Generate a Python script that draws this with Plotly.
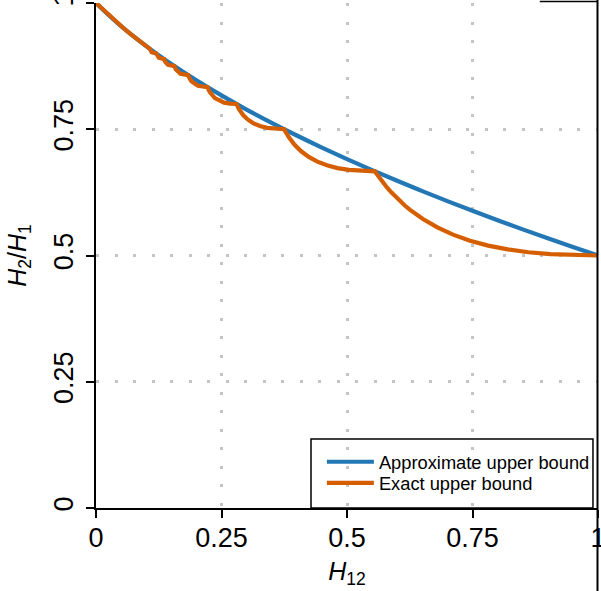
import plotly.graph_objects as go

# ---- data ----
approx_x = [0.0, 0.05, 0.1, 0.15, 0.2, 0.25, 0.3, 0.35, 0.4, 0.45, 0.5,
            0.55, 0.6, 0.65, 0.7, 0.75, 0.8, 0.85, 0.9, 0.95, 1.0]
approx_y = [1.0, 0.9542, 0.91459, 0.87919, 0.84689, 0.81699, 0.78902, 0.76266,
            0.73765, 0.71381, 0.69098, 0.66905, 0.64792, 0.62751, 0.60774,
            0.58856, 0.56993, 0.55179, 0.53411, 0.51686, 0.5]

exact_x = [0.0, 0.0208, 0.03556, 0.055, 0.07031, 0.08163, 0.09722, 0.107438,
           0.1108, 0.12, 0.125062, 0.135802, 0.137491, 0.143516, 0.15625,
           0.158776, 0.168265, 0.18367, 0.1851, 0.19, 0.203056, 0.22222,
           0.223952, 0.226688, 0.2368, 0.2552, 0.2668, 0.28, 0.282138, 0.28455,
           0.293438, 0.302734, 0.31375, 0.326484, 0.340938, 0.357109, 0.375,
           0.376705, 0.37849, 0.38431, 0.39556, 0.40875, 0.42389, 0.440972,
           0.46, 0.480972, 0.50389, 0.52875, 0.5556, 0.5578, 0.5648, 0.5722,
           0.58, 0.5882, 0.60125, 0.6152, 0.625, 0.65125, 0.68, 0.71125, 0.745,
           0.78125, 0.82, 0.86125, 0.905, 0.95125, 1.0]
exact_y = [1.0, 0.98, 0.96667, 0.95, 0.9375, 0.92857, 0.91667, 0.909091,
           0.9027, 0.9, 0.89159, 0.888889, 0.88406, 0.87771, 0.875,
           0.86851, 0.85986, 0.85714, 0.85302, 0.84483, 0.83606, 0.83333,
           0.8288, 0.8234, 0.81163, 0.80273, 0.80066, 0.8, 0.7951, 0.7904,
           0.77769, 0.76887, 0.76176, 0.75641, 0.75274, 0.75066, 0.75,
           0.74669, 0.74343, 0.73394, 0.7193, 0.70631, 0.69515, 0.6859,
           0.67857, 0.67311, 0.66942, 0.66732, 0.6667, 0.66334, 0.65348, 0.64379,
           0.63433, 0.62509, 0.61172, 0.599, 0.59091, 0.57213, 0.55556, 0.54128, 0.52932,
           0.51961, 0.51205, 0.50649, 0.50275, 0.50066, 0.5]

tick_vals = [0, 0.25, 0.5, 0.75, 1]
tick_text = ["0", "0.25", "0.5", "0.75", "1"]
grid_vals = [0.25, 0.5, 0.75]

series_names = ["Approximate upper bound", "Exact upper bound"]
BLUE = "#2277B4"
ORANGE = "#D55E00"
FONT = "Liberation Sans, Arial, Helvetica, sans-serif"

fig = go.Figure()
fig.add_trace(go.Scatter(x=approx_x, y=approx_y, mode="lines", name=series_names[0],
                         legend="legend",
                         line=dict(color=BLUE, width=4.2, shape="spline")))
fig.add_trace(go.Scatter(x=exact_x, y=exact_y, mode="lines", name=series_names[1],
                         legend="legend2",
                         line=dict(color=ORANGE, width=4.2)))

axis_common = dict(
    range=[0, 1], tickmode="array", tickvals=tick_vals, ticktext=tick_text,
    showline=True, linecolor="black", linewidth=1.5,
    ticks="outside", ticklen=8, tickwidth=1.5, tickcolor="black",
    showgrid=False, zeroline=False, ticklabeloverflow="allow",
    tickfont=dict(family=FONT, size=27, color="black"),
    minor=dict(tickmode="array", tickvals=grid_vals, ticks="", showgrid=True,
               gridcolor="#C4C4C4", gridwidth=3, griddash="3px,15.5px"),
)

legend_common = dict(xanchor="left", yanchor="top", bgcolor="rgba(0,0,0,0)",
                     borderwidth=0, font=dict(family=FONT, size=18.3, color="black"),
                     itemwidth=47, tracegroupgap=0)

fig.update_layout(
    width=601, height=591,
    margin=dict(l=96, r=3, t=3, b=83, autoexpand=False),
    paper_bgcolor="white", plot_bgcolor="white",
    font=dict(family=FONT, color="black"),
    xaxis=dict(**axis_common, ticklabelstandoff=-3,
               title=dict(text="<i>H</i><sub>12</sub>", font=dict(size=25), standoff=10)),
    yaxis=dict(**axis_common, tickangle=-90, ticklabelstandoff=2,
               title=dict(text="<i>H</i><sub>2</sub>/<i>H</i><sub>1</sub>", font=dict(size=25), standoff=16)),
    showlegend=True,
    legend=dict(x=0.45, y=0.128, **legend_common),
    legend2=dict(x=0.45, y=0.0863, **legend_common),
    shapes=[
        dict(type="rect", xref="paper", yref="paper", x0=0.4283, x1=0.99, y0=0, y1=0.1366,
             line=dict(color="black", width=1.5), fillcolor="rgba(0,0,0,0)", layer="above"),
        dict(type="line", xref="paper", yref="paper", x0=0.999, x1=0.999, y0=-0.17, y1=1.01,
             line=dict(color="black", width=2)),
        dict(type="line", xref="paper", yref="paper", x0=0.884, x1=0.999, y0=1.003, y1=1.003,
             line=dict(color="black", width=1.5)),
    ],
)

fig.write_html("out.html", config={"displayModeBar": False},
               post_script="document.body.style.margin='0px';")
